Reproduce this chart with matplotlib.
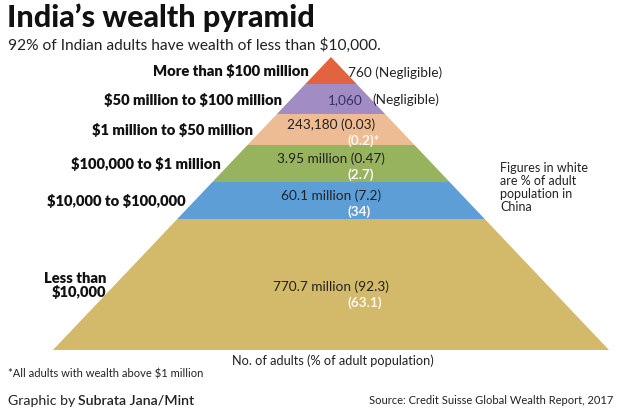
import matplotlib.pyplot as plt
from matplotlib.patches import Polygon

plt.rcParams['text.parse_math'] = False

# data
categories = ['More than $100 million', '$50 million to $100 million',
              '$1 million to $50 million', '$100,000 to $1 million',
              '$10,000 to $100,000', 'Less than\n$10,000']
adults = ['760', '1,060', '243,180', '3.95 million', '60.1 million', '770.7 million']
india_pct = ['Negligible', 'Negligible', '0.03', '0.47', '7.2', '92.3']
china_pct = [None, None, '0.2', '2.7', '34', '63.1']
colors = ['#E3633F', '#A18CC3', '#EDBC94', '#97B35D', '#5E9ED6', '#D3B96A']

# layout (pixels)
band_edges = [58, 85, 115, 146, 183, 220, 351]
apex_x = 331
apex_y = 58
base_y = 351
base_half = 278

def half_width(y):
    return base_half * (y - apex_y) / (base_y - apex_y)

fig = plt.figure(figsize=(6.21, 4.14), dpi=100)
ax = fig.add_axes([0, 0, 1, 1])
ax.set_xlim(0, 621)
ax.set_ylim(414, 0)
ax.axis('off')

body = ['Lato', 'DejaVu Sans']

for i in range(len(categories)):
    y0, y1 = band_edges[i], band_edges[i + 1]
    w0, w1 = half_width(y0), half_width(y1)
    pts = [(apex_x - w0, y0), (apex_x + w0, y0), (apex_x + w1, y1), (apex_x - w1, y1)]
    ax.add_patch(Polygon(pts, closed=True, facecolor=colors[i], edgecolor='none'))

    ym = (y0 + y1) / 2
    left = apex_x - half_width(ym)
    right = apex_x + half_width(ym)
    ax.text(left - 9, ym, categories[i], ha='right', va='center', fontsize=10.6,
            fontweight='heavy', family=body, color='#111111', linespacing=1.0)

    if i == 0:
        ax.text(right + 4, ym + 1, adults[i] + ' (' + india_pct[i] + ')', ha='left',
                va='center', fontsize=9.8, family=body, color='#222222')
    elif i == 1:
        ax.text(right - 8, ym, adults[i], ha='right', va='center', fontsize=9.8,
                family=body, color='#333366')
        ax.text(right + 2, ym, '(' + india_pct[i] + ')', ha='left', va='center',
                fontsize=9.8, family=body, color='#222222')
    else:
        if i == 5:
            ty = ym + 1
        else:
            ty = ym - 6
        ax.text(apex_x, ty, adults[i] + ' (' + india_pct[i] + ')', ha='center',
                va='center', fontsize=9.8, family=body, color='#222222')
        label = '(' + china_pct[i] + ')'
        if i == 2:
            label += '*'
        ax.text(apex_x + 17, ty + 16, label, ha='left', va='center', fontsize=9.8,
                fontweight='bold', family=body, color='#FAF6EC')

ax.text(7, 18, 'India\u2019s wealth pyramid', ha='left', va='center', fontsize=22,
        fontweight='black', family=body, color='#111111')
ax.text(8, 45, '92% of Indian adults have wealth of less than $10,000.', ha='left',
        va='center', fontsize=11.2, family=body, color='#222222')

ax.text(500, 188, 'Figures in white\nare % of adult\npopulation in\nChina', ha='left',
        va='center', fontsize=9, family=body, color='#222222', linespacing=1.1)

ax.text(333, 361, 'No. of adults (% of adult population)', ha='center', va='center',
        fontsize=9.2, family=body, color='#222222')

ax.text(8, 374, '*All adults with wealth above $1 million', ha='left', va='center',
        fontsize=8, family=body, color='#222222')
ax.text(8, 401, 'Graphic by', ha='left', va='center', fontsize=10.2,
        family=body, color='#222222')
ax.text(78, 401, 'Subrata Jana/Mint', ha='left', va='center', fontsize=10.2,
        fontweight='semibold', family=body, color='#222222')
ax.text(613, 401, 'Source: Credit Suisse Global Wealth Report, 2017', ha='right',
        va='center', fontsize=8, family=body, color='#222222')

fig.savefig('out.png', dpi=100)
